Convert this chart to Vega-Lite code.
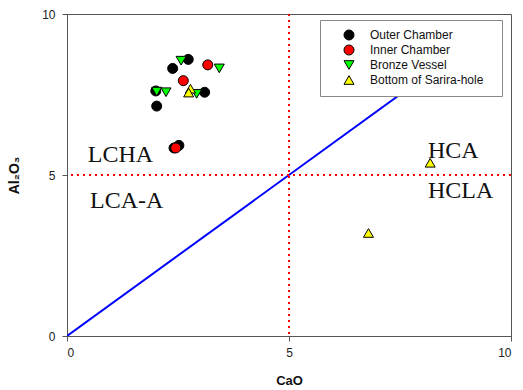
{
  "$schema": "https://vega.github.io/schema/vega-lite/v6.json",
  "width": 444,
  "height": 322,
  "autosize": {"type": "none"},
  "padding": {"left": 67, "top": 14, "right": 12, "bottom": 54},
  "background": "white",
  "config": {
    "view": {"stroke": "#555555", "strokeWidth": 1},
    "font": "Liberation Sans",
    "axis": {
      "grid": false,
      "domainColor": "#555555",
      "tickColor": "#555555",
      "tickSize": 5,
      "labelFont": "Liberation Sans",
      "labelFontSize": 12,
      "labelColor": "#222222",
      "titleFont": "Liberation Sans",
      "titleFontSize": 13,
      "titleFontWeight": "bold",
      "titleColor": "#111111"
    }
  },
  "datasets": {
    "pts": [
      {"CaO": 2.73, "Al2O3": 8.59, "type": "Outer Chamber"},
      {"CaO": 2.38, "Al2O3": 8.31, "type": "Outer Chamber"},
      {"CaO": 3.10, "Al2O3": 7.57, "type": "Outer Chamber"},
      {"CaO": 2.00, "Al2O3": 7.61, "type": "Outer Chamber"},
      {"CaO": 2.02, "Al2O3": 7.14, "type": "Outer Chamber"},
      {"CaO": 2.52, "Al2O3": 5.92, "type": "Outer Chamber"},
      {"CaO": 2.41, "Al2O3": 5.84, "type": "Outer Chamber"},
      {"CaO": 3.17, "Al2O3": 8.42, "type": "Inner Chamber"},
      {"CaO": 2.62, "Al2O3": 7.93, "type": "Inner Chamber"},
      {"CaO": 2.45, "Al2O3": 5.84, "type": "Inner Chamber"},
      {"CaO": 2.57, "Al2O3": 8.55, "type": "Bronze Vessel"},
      {"CaO": 3.43, "Al2O3": 8.31, "type": "Bronze Vessel"},
      {"CaO": 2.02, "Al2O3": 7.59, "type": "Bronze Vessel"},
      {"CaO": 2.23, "Al2O3": 7.57, "type": "Bronze Vessel"},
      {"CaO": 2.92, "Al2O3": 7.52, "type": "Bronze Vessel"},
      {"CaO": 2.78, "Al2O3": 7.68, "type": "Bottom of Sarira-hole"},
      {"CaO": 2.74, "Al2O3": 7.56, "type": "Bottom of Sarira-hole"},
      {"CaO": 8.18, "Al2O3": 5.38, "type": "Bottom of Sarira-hole"},
      {"CaO": 6.79, "Al2O3": 3.20, "type": "Bottom of Sarira-hole"}
    ],
    "diag": [
      {"CaO": 0, "Al2O3": 0},
      {"CaO": 9.5, "Al2O3": 9.5}
    ],
    "labels": [
      {"CaO": 0.47, "Al2O3": 5.41, "label": "LCHA"},
      {"CaO": 0.52, "Al2O3": 3.97, "label": "LCA-A"},
      {"CaO": 8.13, "Al2O3": 5.53, "label": "HCA"},
      {"CaO": 8.13, "Al2O3": 4.30, "label": "HCLA"}
    ]
  },
  "layer": [
    {
      "data": {"name": "diag"},
      "mark": {"type": "line", "color": "#0000ff", "strokeWidth": 2, "clip": true},
      "encoding": {
        "x": {"field": "CaO", "type": "quantitative", "scale": {"domain": [0, 10]}, "axis": {"values": [0, 5, 10], "title": "CaO", "titlePadding": 16, "labelPadding": 6}},
        "y": {"field": "Al2O3", "type": "quantitative", "scale": {"domain": [0, 10]}, "axis": {"values": [0, 5, 10], "title": "Al₂O₃", "titlePadding": 20, "labelPadding": 7, "titleFontSize": 14}}
      }
    },
    {
      "data": {"values": [{"v": 5}]},
      "mark": {"type": "rule", "color": "#ff0000", "strokeWidth": 2, "strokeDash": [2, 4]},
      "encoding": {"x": {"field": "v", "type": "quantitative"}}
    },
    {
      "data": {"values": [{"v": 5}]},
      "mark": {"type": "rule", "color": "#ff0000", "strokeWidth": 2, "strokeDash": [2, 4]},
      "encoding": {"y": {"field": "v", "type": "quantitative"}}
    },
    {
      "data": {"name": "labels"},
      "mark": {"type": "text", "font": "Liberation Serif", "fontSize": 24, "align": "left", "baseline": "alphabetic", "color": "#111111"},
      "encoding": {
        "x": {"field": "CaO", "type": "quantitative"},
        "y": {"field": "Al2O3", "type": "quantitative"},
        "text": {"field": "label"}
      }
    },
    {
      "data": {"name": "pts"},
      "mark": {"type": "point", "filled": true, "stroke": "#000000", "strokeWidth": 1, "size": 100, "opacity": 1},
      "encoding": {
        "x": {"field": "CaO", "type": "quantitative"},
        "y": {"field": "Al2O3", "type": "quantitative"},
        "color": {
          "field": "type", "type": "nominal",
          "scale": {"domain": ["Outer Chamber", "Inner Chamber", "Bronze Vessel", "Bottom of Sarira-hole"], "range": ["#000000", "#ff0000", "#00ff00", "#ffff00"]},
          "legend": {
            "title": null,
            "orient": "none",
            "legendX": 253,
            "legendY": 6,
            "fillColor": "white",
            "strokeColor": "#888888",
            "padding": 9,
            "symbolOffset": 14,
            "labelFont": "Liberation Sans",
            "labelFontSize": 12,
            "labelColor": "#111111",
            "labelExpr": "datum.label + '\u2800'",
            "symbolSize": 100,
            "symbolStrokeColor": "#000000",
            "symbolStrokeWidth": 1,
            "rowPadding": 1,
            "labelOffset": 15
          }
        },
        "shape": {
          "field": "type", "type": "nominal",
          "scale": {"domain": ["Outer Chamber", "Inner Chamber", "Bronze Vessel", "Bottom of Sarira-hole"], "range": ["circle", "circle", "triangle-down", "triangle-up"]}
        }
      }
    }
  ]
}
